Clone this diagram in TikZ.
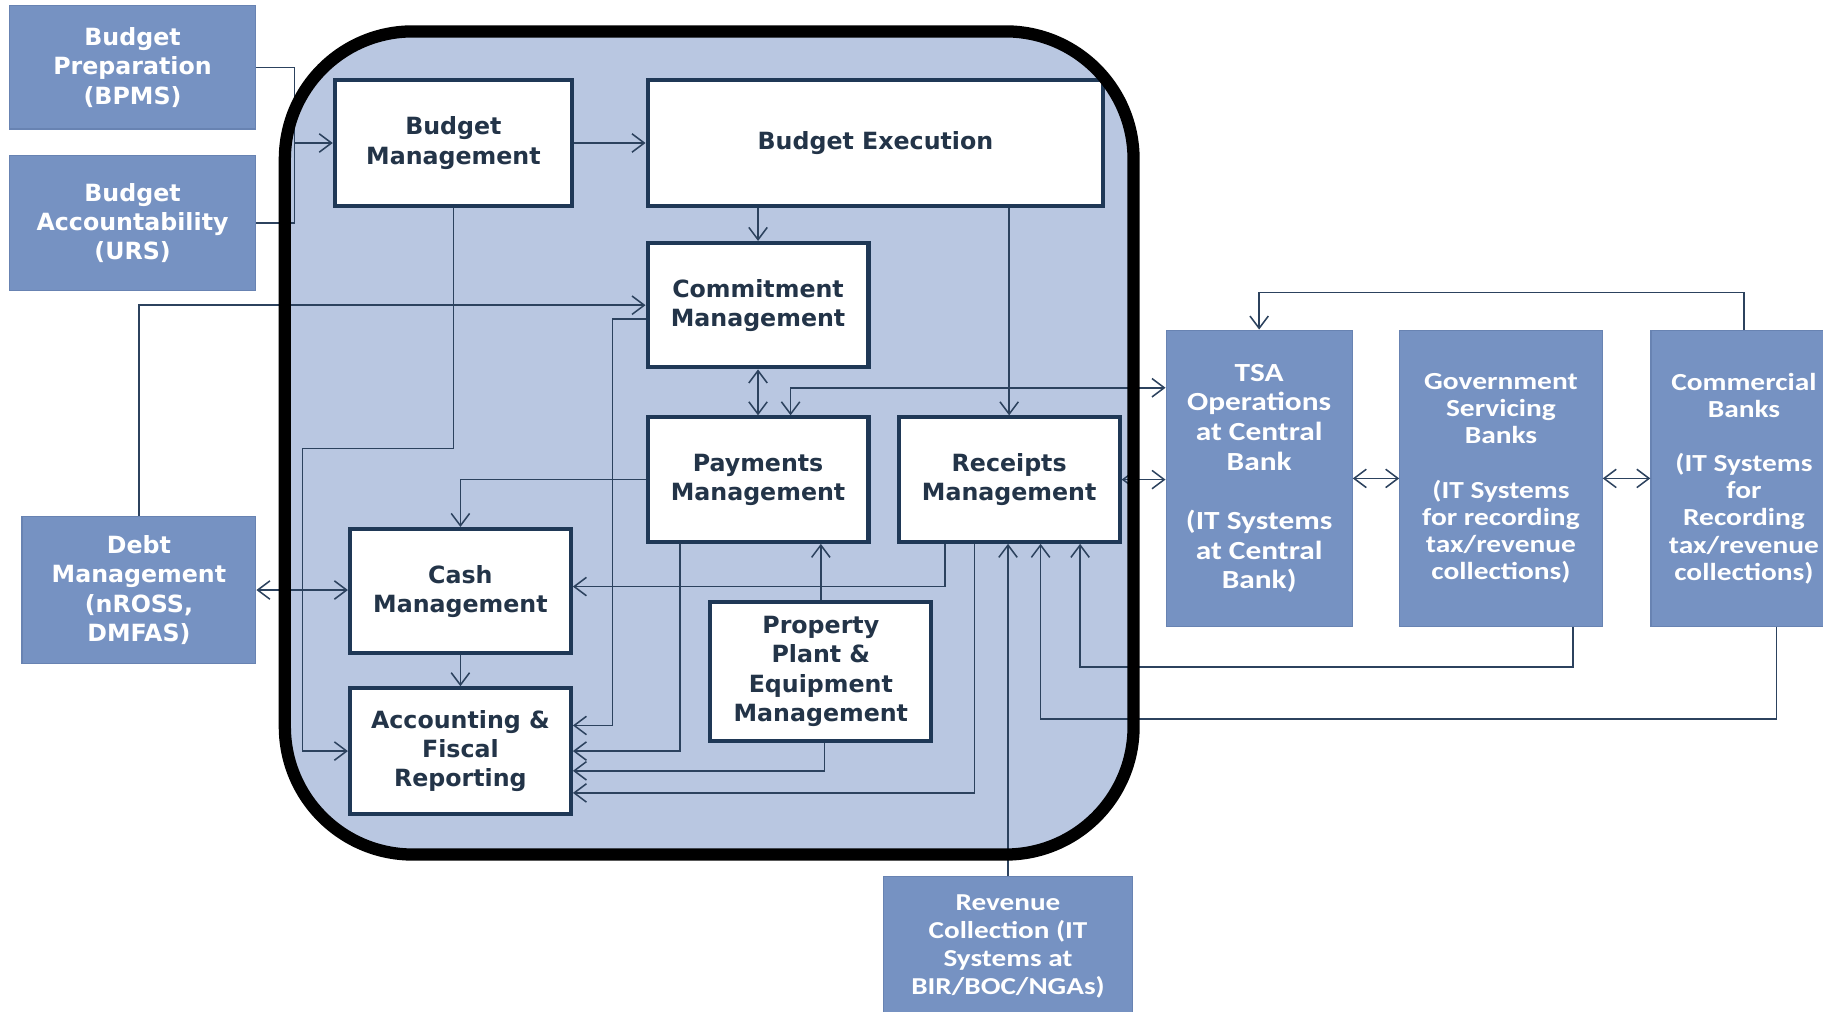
\documentclass[tikz,border=0pt]{standalone}
\usepackage{fontspec}
\newfontfamily\boxfont{DejaVu Sans}
\newfontfamily\bankfont[FakeStretch=1.2]{Carlito}
\usetikzlibrary{arrows.meta, positioning, calc}
\definecolor{panelblue}{RGB}{185,199,225}
\definecolor{sysblue}{RGB}{118,146,194}
\definecolor{sysedge}{RGB}{104,131,178}
\definecolor{boxedge}{RGB}{31,56,86}
\definecolor{boxtext}{RGB}{35,52,72}
\definecolor{wirecol}{RGB}{44,66,94}
\tikzstyle{module} = [rectangle, draw=boxedge, line width=2pt, fill=white, text=boxtext, align=center, inner sep=0pt, font=\fontsize{11.6pt}{14.3pt}\boxfont\bfseries]
\tikzstyle{system} = [rectangle, draw=sysedge, line width=0.6pt, fill=sysblue, text=white, align=center, inner sep=0pt, font=\fontsize{11.6pt}{14.3pt}\boxfont\bfseries]
\tikzstyle{bank} = [system, font=\fontsize{12pt}{13.3pt}\bankfont\bfseries]
\tikzstyle{wire} = [draw=wirecol, line width=0.75pt]
\tikzstyle{arrow} = [wire, ->, >={Straight Barb[length=6pt,width=9pt]}]
\tikzstyle{twoway} = [arrow, <->]

\begin{document}
\begin{tikzpicture}[x=0.2mm, y=-0.2mm]
			\useasboundingbox (0,0) rectangle (1568,870);
			\clip (0,0) rectangle (1568,870);
			% Panel
			\fill [panelblue, rounded corners=22mm] (245,27) rectangle (975,735);
			% Outside systems
			\node (bprep) [system, minimum width=42.4mm, minimum height=21.2mm] at (114,58) {Budget\\Preparation\\(BPMS)};
			\node (bacct) [system, minimum width=42.4mm, minimum height=23.2mm] at (114,192) {Budget\\Accountability\\(URS)};
			\node (debt) [system, minimum width=40.2mm, minimum height=25.4mm] at (119.5,507.5) {Debt\\Management\\(nROSS,\\DMFAS)};
			\node (revenue) [bank, font=\fontsize{11.9pt}{13.6pt}\bankfont\bfseries, minimum width=42.8mm, minimum height=24mm] at (867,814) {Revenue\\Collection (IT\\Systems at\\BIR/BOC/NGAs)};
			\node (tsa) [bank, font=\fontsize{12.8pt}{14.5pt}\bankfont\bfseries, minimum width=32mm, minimum height=51mm] at (1083,411.5) {TSA\\Operations\\at Central\\Bank\\[14.5pt](IT Systems\\at Central\\Bank)};
			\node (gsb) [bank, minimum width=34.8mm, minimum height=51mm] at (1291,411.5) {Government\\Servicing\\Banks\\[13.3pt](IT Systems\\for recording\\tax/revenue\\collections)};
			\node (cbank) [bank, minimum width=32mm, minimum height=51mm] at (1500,411.5) {Commercial\\Banks\\[13.3pt](IT Systems\\for\\Recording\\tax/revenue\\collections)};
			% Modules
			\node (bmgmt) [module, minimum width=40.8mm, minimum height=21.6mm] at (390,123) {Budget\\Management};
			\node (bexec) [module, minimum width=78.4mm, minimum height=21.6mm] at (753,123) {Budget Execution};
			\node (commit) [module, minimum width=38mm, minimum height=21.4mm] at (652,262.5) {Commitment\\Management};
			\node (pay) [module, minimum width=38mm, minimum height=21.4mm] at (652,412.5) {Payments\\Management};
			\node (rcpt) [module, minimum width=38mm, minimum height=21.4mm] at (868,412.5) {Receipts\\Management};
			\node (cash) [module, minimum width=38mm, minimum height=21.4mm] at (396,508.5) {Cash\\Management};
			\node (acct) [module, minimum width=38mm, minimum height=21.6mm] at (396,646) {Accounting \&\\Fiscal\\Reporting};
			\node (ppe) [module, minimum width=38mm, minimum height=23.8mm] at (706,577.5) {Property\\Plant \&\\Equipment\\Management};
			% Arrows
			\coordinate (bjoin) at ($(bmgmt.west)+(-33,0)$);
			\draw [wire] (bprep.east) -| (bjoin) |- (bacct.east);
			\draw [arrow] (bjoin) -- (bmgmt.west);
			\draw [arrow] (bmgmt.east) -- (bexec.west);
			\draw [arrow] (bexec.south -| commit.north) -- (commit.north);
			\draw [arrow] (bexec.south -| rcpt.north) -- (rcpt.north);
			\draw [arrow] (debt.north) |- (commit.west);
			\draw [arrow] (bmgmt.south) -- ++(0,207) -| ($(acct.west)+(-39,0)$) -- (acct.west);
			\draw [arrow] ($(commit.west)+(0,12)$) -| ($(acct.east)+(34,-22)$) -- ($(acct.east)+(0,-22)$);
			\draw [twoway] (commit.south) -- (pay.north);
			\draw [twoway] ($(pay.north)+(28,0)$) |- ($(tsa.west)+(0,-78)$);
			\draw [twoway] (rcpt.east) -- (rcpt.east -| tsa.west);
			\draw [twoway] (tsa.east) -- (gsb.west);
			\draw [twoway] (gsb.east) -- (cbank.west);
			\draw [arrow] (cbank.north) -- ++(0,-32) -| (tsa.north);
			\draw [arrow] (pay.west) -| (cash.north);
			\draw [twoway] (debt.east) -- (debt.east -| cash.west);
			\draw [arrow] ($(rcpt.south)+(-55,0)$) |- ($(cash.east)+(0,-4)$);
			\draw [arrow] (cash.south) -- (acct.north);
			\draw [arrow] ($(pay.south)+(-67,0)$) |- (acct.east);
			\draw [arrow] ($(ppe.south)+(3,0)$) |- ($(acct.east)+(0,17)$);
			\draw [arrow] ($(rcpt.south)+(-30,0)$) |- ($(acct.east)+(0,36)$);
			\draw [arrow] (ppe.north) -- (ppe.north |- pay.south);
			\draw [arrow] (revenue.north) -- (revenue.north |- rcpt.south);
			\draw [arrow] ($(gsb.south)+(62,0)$) -- ++(0,34) -| ($(rcpt.south)+(61,0)$);
			\draw [arrow] ($(cbank.south)+(28,0)$) -- ++(0,79) -| ($(rcpt.south)+(27,0)$);
			% Panel border
			\draw [line width=6pt, rounded corners=22mm] (245,27) rectangle (975,735);
		\end{tikzpicture}
\end{document}
